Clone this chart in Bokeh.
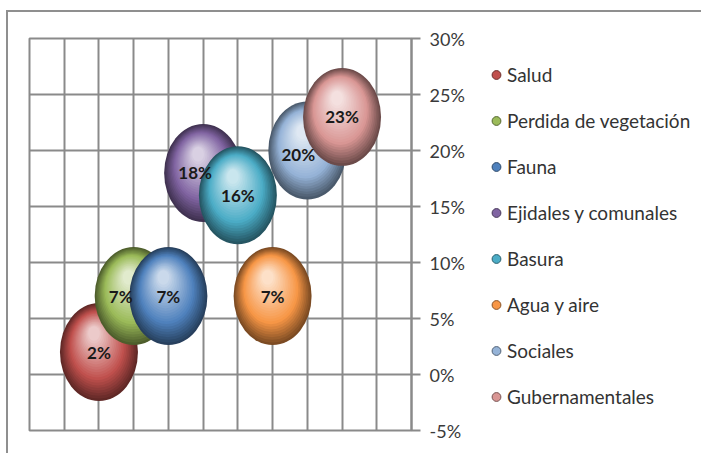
import numpy as np
from bokeh.plotting import figure
from bokeh.layouts import row
from bokeh.models import (ColumnDataSource, FixedTicker, NumeralTickFormatter,
                          Legend, LegendItem, Range1d)
from bokeh.core.properties import value
from bokeh.embed import file_html
from bokeh.resources import INLINE

# ---- data ----
categories = ["Salud", "Perdida de vegetación", "Fauna", "Ejidales y comunales",
              "Basura", "Agua y aire", "Sociales", "Gubernamentales"]
x_pos = [2, 3, 4, 5, 6, 7, 8, 9]
values = [0.02, 0.07, 0.07, 0.18, 0.16, 0.07, 0.20, 0.23]
labels = ["2%", "7%", "7%", "18%", "16%", "7%", "20%", "23%"]
y_ticks = [-0.05, 0.0, 0.05, 0.10, 0.15, 0.20, 0.25, 0.30]
x_grid = list(range(0, 12))

# ---- style ----
base_colors = ["#C0504D", "#9BBB59", "#4F81BD", "#8064A2",
               "#4BACC6", "#F79646", "#95B3D7", "#D99694"]
label_dx = [0, -13, 0, -8, 0, 0, -9, 0]
label_dy = [0, 0, 0, 0, 0, 0, 4, 0]
GRID = "#8a8a8a"
FONT = "Lato"

H = 441
LEFT, TOP = 21, 26
FW, FH = 382, 392
RIGHT = 60
W = LEFT + FW + RIGHT
BOTTOM = H - TOP - FH
LW = 693 - W
XR = (0, 11)
YR = (-0.05, 0.30)
BW, BH = 78, 98  # bubble size in px

p = figure(width=W, height=H, x_range=Range1d(*XR), y_range=Range1d(*YR),
           y_axis_location="right", x_axis_location=None,
           output_backend="svg", toolbar_location=None,
           min_border_left=LEFT, min_border_right=RIGHT,
           min_border_top=TOP, min_border_bottom=BOTTOM,
           background_fill_color="white", border_fill_color="white")

p.xgrid.ticker = FixedTicker(ticks=x_grid)
p.ygrid.ticker = FixedTicker(ticks=y_ticks)
for g in (p.xgrid, p.ygrid):
    g.grid_line_color = GRID
    g.grid_line_width = 2
p.outline_line_color = GRID
p.outline_line_width = 2

ax = p.yaxis[0]
ax.ticker = FixedTicker(ticks=y_ticks)
ax.formatter = NumeralTickFormatter(format="0%")
ax.major_tick_out = 9
ax.major_tick_in = 0
ax.minor_tick_line_color = None
ax.axis_line_color = GRID
ax.axis_line_width = 2
ax.major_tick_line_color = GRID
ax.major_tick_line_width = 2
ax.major_label_standoff = 9
ax.major_label_text_font = FONT
ax.major_label_text_font_size = "18px"
ax.major_label_text_color = "#3a3a3a"


def hex2rgb(h):
    h = h.lstrip("#")
    return np.array([int(h[i:i + 2], 16) for i in (0, 2, 4)], dtype=float)


def rgb2hex(c):
    c = np.clip(np.round(c), 0, 255).astype(int)
    return "#%02x%02x%02x" % tuple(c)


dx_per_px = (XR[1] - XR[0]) / FW
dy_per_px = (YR[1] - YR[0]) / FH

N = 24
ts = np.linspace(0, 1, N)
for i, (xv, yv, col) in enumerate(zip(x_pos, values, base_colors)):
    base = hex2rgb(col)
    dark = base * 0.5
    light = base + (255 - base) * 0.7
    xs, ys, ws, hs, cs = [], [], [], [], []
    for t in ts:
        s = 1 - 0.85 * t
        ws.append(BW * s)
        hs.append(BH * s)
        xs.append(xv - 5 * t * dx_per_px)
        ys.append(yv + (BH / 2) * 0.38 * t * dy_per_px)
        if t < 0.35:
            c = dark + (base - dark) * (t / 0.35)
        else:
            c = base + (light - base) * ((t - 0.35) / 0.65)
        cs.append(rgb2hex(c))
    src = ColumnDataSource(dict(x=xs, y=ys, w=ws, h=hs, c=cs))
    p.ellipse(x="x", y="y", width="w", height="h", width_units="screen",
              height_units="screen", fill_color="c", line_color=None, source=src)

lab_src = ColumnDataSource(dict(x=x_pos, y=values, t=labels, dx=label_dx, dy=label_dy))
p.text(x="x", y="y", text="t", x_offset="dx", y_offset="dy", source=lab_src,
       text_align="center", text_baseline="middle", text_font=value(FONT),
       text_font_style="bold", text_font_size="17px", text_color="#1a1a1a")

# ---- legend panel (separate figure; its view excludes the data so only the legend shows) ----
lp = figure(width=LW, height=H, x_range=Range1d(-2, -1), y_range=Range1d(-2, -1),
            x_axis_location=None, y_axis_location=None,
            output_backend="svg", toolbar_location=None, min_border=0,
            outline_line_color=None, background_fill_color="white",
            border_fill_color="white")
lp.grid.visible = False
legend_items = []
for i, col in enumerate(base_colors):
    dark = hex2rgb(col) * 0.55
    r = lp.scatter(x=[x_pos[i]], y=[values[i]], size=10, fill_color=col,
                   line_color=rgb2hex(dark), line_width=1)
    legend_items.append(LegendItem(label=categories[i], renderers=[r]))

legend = Legend(items=legend_items, location=(14, 21), orientation="vertical",
                glyph_width=22, glyph_height=25, label_height=25, spacing=21,
                padding=0, margin=0, label_standoff=0,
                border_line_color=None, background_fill_alpha=0,
                label_text_font=FONT, label_text_font_size="19px",
                label_text_color="#333333")
lp.add_layout(legend)

layout = row(p, lp)
layout.styles = {"border-top": "2px solid #8f8f8f", "border-left": "2px solid #8f8f8f",
                 "margin-left": "6px", "margin-top": "10px"}

open("out.html", "w").write(file_html(layout, INLINE))
